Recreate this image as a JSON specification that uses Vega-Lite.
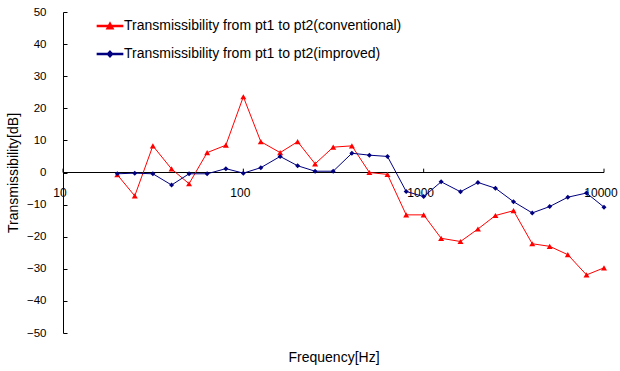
{
  "$schema": "https://vega.github.io/schema/vega-lite/v6.json",
  "autosize": {"type": "none"},
  "padding": {"left": 63, "top": 12, "right": 16, "bottom": 38},
  "width": 541,
  "height": 321,
  "background": "white",
  "config": {
    "view": {"stroke": null},
    "font": "Liberation Sans",
    "axis": {"grid": false, "labelColor": "black", "titleColor": "black", "titleFontWeight": "normal"},
    "axisY": {"values": [-50, -40, -30, -20, -10, 0, 10, 20, 30, 40, 50], "labelOverlap": false, "labelFontSize": 11.5, "domainColor": "black", "tickColor": "black", "tickSize": -4, "labelPadding": 21, "titleFontSize": 14, "titlePadding": 6},
    "axisX": {"titleFontSize": 14, "titlePadding": 17, "labels": false, "ticks": false, "domain": false},
    "legend": {"orient": "none", "legendX": 39, "legendY": 6, "labelFontSize": 14, "labelColor": "black", "labelLimit": 0, "symbolSize": 196, "labelOffset": 6, "rowPadding": 13, "padding": 0}
  },
  "datasets": {
    "main": [
      {"f": 20, "series": "Transmissibility from pt1 to pt2(conventional)", "v": -0.7},
      {"f": 25, "series": "Transmissibility from pt1 to pt2(conventional)", "v": -7.3},
      {"f": 31.5, "series": "Transmissibility from pt1 to pt2(conventional)", "v": 8.3},
      {"f": 40, "series": "Transmissibility from pt1 to pt2(conventional)", "v": 1.1},
      {"f": 50, "series": "Transmissibility from pt1 to pt2(conventional)", "v": -3.5},
      {"f": 63, "series": "Transmissibility from pt1 to pt2(conventional)", "v": 6.2},
      {"f": 80, "series": "Transmissibility from pt1 to pt2(conventional)", "v": 8.5},
      {"f": 100, "series": "Transmissibility from pt1 to pt2(conventional)", "v": 23.6},
      {"f": 125, "series": "Transmissibility from pt1 to pt2(conventional)", "v": 9.6},
      {"f": 160, "series": "Transmissibility from pt1 to pt2(conventional)", "v": 6.2},
      {"f": 200, "series": "Transmissibility from pt1 to pt2(conventional)", "v": 9.6},
      {"f": 250, "series": "Transmissibility from pt1 to pt2(conventional)", "v": 2.7},
      {"f": 315, "series": "Transmissibility from pt1 to pt2(conventional)", "v": 7.9},
      {"f": 400, "series": "Transmissibility from pt1 to pt2(conventional)", "v": 8.3},
      {"f": 500, "series": "Transmissibility from pt1 to pt2(conventional)", "v": 0.0},
      {"f": 630, "series": "Transmissibility from pt1 to pt2(conventional)", "v": -0.6},
      {"f": 800, "series": "Transmissibility from pt1 to pt2(conventional)", "v": -13.2},
      {"f": 1000, "series": "Transmissibility from pt1 to pt2(conventional)", "v": -13.2},
      {"f": 1250, "series": "Transmissibility from pt1 to pt2(conventional)", "v": -20.5},
      {"f": 1600, "series": "Transmissibility from pt1 to pt2(conventional)", "v": -21.5},
      {"f": 2000, "series": "Transmissibility from pt1 to pt2(conventional)", "v": -17.6},
      {"f": 2500, "series": "Transmissibility from pt1 to pt2(conventional)", "v": -13.4},
      {"f": 3150, "series": "Transmissibility from pt1 to pt2(conventional)", "v": -11.9},
      {"f": 4000, "series": "Transmissibility from pt1 to pt2(conventional)", "v": -22.2},
      {"f": 5000, "series": "Transmissibility from pt1 to pt2(conventional)", "v": -23.0},
      {"f": 6300, "series": "Transmissibility from pt1 to pt2(conventional)", "v": -25.6},
      {"f": 8000, "series": "Transmissibility from pt1 to pt2(conventional)", "v": -31.9},
      {"f": 10000, "series": "Transmissibility from pt1 to pt2(conventional)", "v": -29.7},
      {"f": 20, "series": "Transmissibility from pt1 to pt2(improved)", "v": -0.4},
      {"f": 25, "series": "Transmissibility from pt1 to pt2(improved)", "v": -0.2},
      {"f": 31.5, "series": "Transmissibility from pt1 to pt2(improved)", "v": -0.4},
      {"f": 40, "series": "Transmissibility from pt1 to pt2(improved)", "v": -3.9},
      {"f": 50, "series": "Transmissibility from pt1 to pt2(improved)", "v": -0.4},
      {"f": 63, "series": "Transmissibility from pt1 to pt2(improved)", "v": -0.4},
      {"f": 80, "series": "Transmissibility from pt1 to pt2(improved)", "v": 1.2},
      {"f": 100, "series": "Transmissibility from pt1 to pt2(improved)", "v": -0.2},
      {"f": 125, "series": "Transmissibility from pt1 to pt2(improved)", "v": 1.5},
      {"f": 160, "series": "Transmissibility from pt1 to pt2(improved)", "v": 5.0},
      {"f": 200, "series": "Transmissibility from pt1 to pt2(improved)", "v": 2.1},
      {"f": 250, "series": "Transmissibility from pt1 to pt2(improved)", "v": 0.4},
      {"f": 315, "series": "Transmissibility from pt1 to pt2(improved)", "v": 0.4},
      {"f": 400, "series": "Transmissibility from pt1 to pt2(improved)", "v": 6.0},
      {"f": 500, "series": "Transmissibility from pt1 to pt2(improved)", "v": 5.4},
      {"f": 630, "series": "Transmissibility from pt1 to pt2(improved)", "v": 5.0},
      {"f": 800, "series": "Transmissibility from pt1 to pt2(improved)", "v": -5.9},
      {"f": 1000, "series": "Transmissibility from pt1 to pt2(improved)", "v": -7.5},
      {"f": 1250, "series": "Transmissibility from pt1 to pt2(improved)", "v": -2.9},
      {"f": 1600, "series": "Transmissibility from pt1 to pt2(improved)", "v": -6.0},
      {"f": 2000, "series": "Transmissibility from pt1 to pt2(improved)", "v": -3.1},
      {"f": 2500, "series": "Transmissibility from pt1 to pt2(improved)", "v": -4.9},
      {"f": 3150, "series": "Transmissibility from pt1 to pt2(improved)", "v": -9.1},
      {"f": 4000, "series": "Transmissibility from pt1 to pt2(improved)", "v": -12.6},
      {"f": 5000, "series": "Transmissibility from pt1 to pt2(improved)", "v": -10.6},
      {"f": 6300, "series": "Transmissibility from pt1 to pt2(improved)", "v": -7.7},
      {"f": 8000, "series": "Transmissibility from pt1 to pt2(improved)", "v": -6.4},
      {"f": 10000, "series": "Transmissibility from pt1 to pt2(improved)", "v": -10.8}
    ],
    "decades": [{"f": 10, "label": "10"}, {"f": 100, "label": "100"}, {"f": 1000, "label": "1000"}, {"f": 10000, "label": "10000"}]
  },
  "layer": [
    {
      "data": {"values": [{}]},
      "mark": {"type": "rule", "color": "black", "strokeWidth": 1},
      "encoding": {
        "x": {"datum": 10, "type": "quantitative", "scale": {"type": "log", "domain": [10, 10000]}, "title": "Frequency[Hz]"},
        "x2": {"datum": 10000},
        "y": {"datum": 0, "type": "quantitative", "scale": {"domain": [-50, 50]}, "title": "Transmissibility[dB]"}
      }
    },
    {
      "data": {"name": "decades"},
      "mark": {"type": "rule", "color": "black", "strokeWidth": 1},
      "encoding": {
        "x": {"field": "f", "type": "quantitative", "title": "Frequency[Hz]"},
        "y": {"datum": 0, "type": "quantitative", "title": "Transmissibility[dB]"},
        "y2": {"datum": 1.2}
      }
    },
    {
      "data": {"name": "decades"},
      "mark": {"type": "text", "fontSize": 12, "baseline": "middle", "align": "center", "dy": 20, "dx": -3, "color": "black"},
      "encoding": {
        "x": {"field": "f", "type": "quantitative", "title": "Frequency[Hz]"},
        "y": {"datum": 0, "type": "quantitative", "title": "Transmissibility[dB]"},
        "text": {"field": "label"}
      }
    },
    {
      "data": {"name": "main"},
      "mark": {"type": "line", "strokeWidth": 1},
      "encoding": {
        "x": {"field": "f", "type": "quantitative", "title": "Frequency[Hz]"},
        "y": {"field": "v", "type": "quantitative", "title": "Transmissibility[dB]"},
        "color": {"field": "series", "type": "nominal", "title": null,
          "scale": {"domain": ["Transmissibility from pt1 to pt2(conventional)", "Transmissibility from pt1 to pt2(improved)"], "range": ["#ff0000", "#000080"]},
          "legend": {
            "encode": {"symbols": {"update": {
              "shape": {"signal": "indexof(datum.value, 'conventional') >= 0 ? 'M-1.8,-0.075L1.8,-0.075L1.8,0.075L-1.8,0.075ZM0,-0.45L0.45,0.4L-0.45,0.4Z' : 'M-1.8,-0.075L1.8,-0.075L1.8,0.075L-1.8,0.075ZM0,-0.4L0.38,0L0,0.4L-0.38,0Z'"},
              "fill": {"scale": "color", "field": "value"},
              "stroke": {"value": "transparent"},
              "opacity": {"value": 1},
              "fillOpacity": {"value": 1}
            }}}}
        }
      }
    },
    {
      "data": {"name": "main"},
      "transform": [{"filter": "indexof(datum.series, 'conventional') >= 0"}],
      "mark": {"type": "point", "filled": true, "opacity": 1, "shape": "triangle-up", "size": 36},
      "encoding": {
        "x": {"field": "f", "type": "quantitative", "title": "Frequency[Hz]"},
        "y": {"field": "v", "type": "quantitative", "title": "Transmissibility[dB]"},
        "color": {"field": "series", "type": "nominal", "title": null}
      }
    },
    {
      "data": {"name": "main"},
      "transform": [{"filter": "indexof(datum.series, 'improved') >= 0"}],
      "mark": {"type": "point", "filled": true, "opacity": 1, "shape": "diamond", "size": 25},
      "encoding": {
        "x": {"field": "f", "type": "quantitative", "title": "Frequency[Hz]"},
        "y": {"field": "v", "type": "quantitative", "title": "Transmissibility[dB]"},
        "color": {"field": "series", "type": "nominal", "title": null}
      }
    }
  ]
}
